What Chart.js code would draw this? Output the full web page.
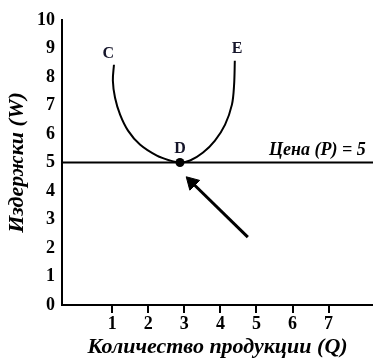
<!DOCTYPE html>
<html><head><meta charset="utf-8">
<script src="https://cdn.jsdelivr.net/npm/chart.js@4/dist/chart.umd.min.js"></script>
<style>html,body{margin:0;padding:0;background:#fff}</style>
</head><body>
<canvas id="c" width="373" height="361"></canvas>
<script>
// ---- data ----
const xTicks = [1, 2, 3, 4, 5, 6, 7];
const yTicks = [0, 1, 2, 3, 4, 5, 6, 7, 8, 9, 10];
const curveX = [1.05, 1.02, 1.08, 1.22, 1.44, 1.77, 2.24, 2.60, 2.88, 3.16, 3.52, 3.85, 4.13, 4.32, 4.38, 4.40];
const curveY = [8.43, 7.87, 7.27, 6.68, 6.12, 5.63, 5.24, 5.07, 5.00, 5.07, 5.35, 5.77, 6.33, 7.03, 7.73, 8.57];
const price = 5;
const pointD = [2.88, 5];
const arrowX = [4.76, 3.21];
const arrowY = [2.38, 4.30];
const labelText = ['C', 'D', 'E'];
const labelX = [0.89, 2.88, 4.46];
const labelY = [8.81, 5.49, 8.99];
const priceLabel = 'Цена (P) = 5';
const priceLabelAt = [8.03, 5.42];
const xTitle = 'Количество продукции (Q)';
const yTitle = 'Издержки (W)';
const X_MIN = -0.39, X_MAX = 8.23, Y_MIN = 0, Y_MAX = 10;

const SERIF = '"Liberation Serif", "Times New Roman", serif';
const INK = '#000';

const labelsPlugin = {
  id: 'labels',
  afterDatasetsDraw(chart) {
    const {ctx, scales: {x, y}} = chart;
    ctx.save();
    ctx.fillStyle = '#15152a';
    ctx.font = 'bold 16px ' + SERIF;
    ctx.textAlign = 'center';
    ctx.textBaseline = 'middle';
    labelText.forEach((t, i) => {
      ctx.fillText(t, x.getPixelForValue(labelX[i]), y.getPixelForValue(labelY[i]));
    });
    ctx.fillStyle = INK;
    ctx.font = 'italic bold 18px ' + SERIF;
    ctx.textAlign = 'right';
    ctx.fillText(priceLabel, x.getPixelForValue(priceLabelAt[0]), y.getPixelForValue(priceLabelAt[1]));
    ctx.restore();
  }
};

new Chart(document.getElementById('c'), {
  type: 'scatter',
  data: {
    datasets: [
      {
        data: [{x: X_MIN, y: price}, {x: X_MAX, y: price}],
        showLine: true, borderColor: INK, borderWidth: 2, pointRadius: 0, tension: 0
      },
      {
        data: curveX.map((v, i) => ({x: v, y: curveY[i]})),
        showLine: true, borderColor: INK, borderWidth: 2, pointRadius: 0, tension: 0.35
      },
      {
        data: [{x: pointD[0], y: pointD[1]}],
        pointRadius: 4.5, backgroundColor: INK, borderColor: INK, borderWidth: 0
      },
      {
        data: arrowX.map((v, i) => ({x: v, y: arrowY[i]})),
        showLine: true, borderColor: INK, borderWidth: 3, tension: 0,
        pointRadius: [0, 8], pointStyle: 'triangle', pointRotation: -45,
        pointBackgroundColor: INK, pointBorderColor: INK, pointBorderWidth: 1
      }
    ]
  },
  options: {
    responsive: false,
    animation: false,
    devicePixelRatio: 1,
    layout: {autoPadding: false, padding: {top: 20, right: 0, left: 0, bottom: 0}},
    plugins: {legend: {display: false}, tooltip: {enabled: false}},
    scales: {
      x: {
        type: 'linear', min: X_MIN, max: X_MAX,
        afterBuildTicks: s => { s.ticks = xTicks.map(v => ({value: v})); },
        afterFit: s => { s.height = 56; },
        grid: {display: true, drawOnChartArea: false, drawTicks: true, tickLength: 8, color: INK, lineWidth: 2},
        border: {display: true, color: INK, width: 2},
        ticks: {color: INK, padding: 1, font: {family: SERIF, size: 18, weight: 'bold'}},
        title: {display: true, text: xTitle, color: INK, padding: {top: 0, bottom: 0},
          font: {family: SERIF, size: 22, weight: 'bold', style: 'italic'}}
      },
      y: {
        type: 'linear', min: Y_MIN, max: Y_MAX,
        afterBuildTicks: s => { s.ticks = yTicks.map(v => ({value: v})); },
        afterFit: s => { s.width = 62; },
        grid: {display: false, drawTicks: false},
        border: {display: true, color: INK, width: 2},
        ticks: {color: INK, padding: 7, font: {family: SERIF, size: 18, weight: 'bold'}},
        title: {display: true, text: yTitle, color: INK, padding: {top: 4, bottom: 0},
          font: {family: SERIF, size: 22, weight: 'bold', style: 'italic'}}
      }
    }
  },
  plugins: [labelsPlugin]
});
</script>
</body></html>
